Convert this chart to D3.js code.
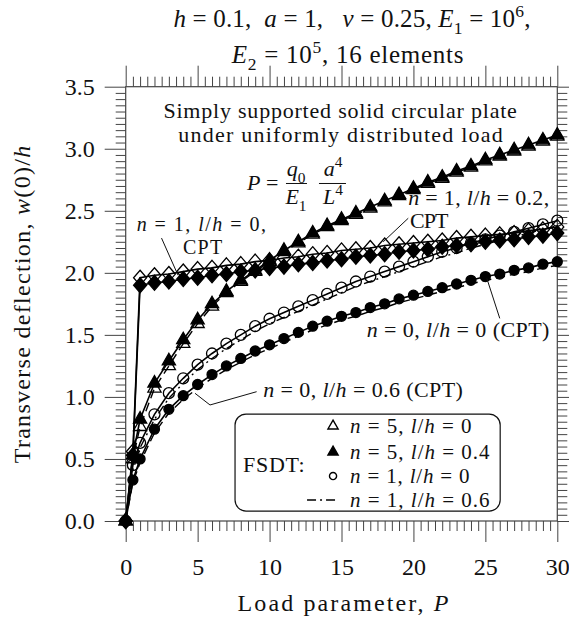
<!DOCTYPE html>
<html><head><meta charset="utf-8">
<script src="https://cdn.jsdelivr.net/npm/d3@7"></script>
<style>
body{margin:0;background:#fff}
svg{display:block}
text{font-family:'Liberation Serif','Times New Roman',serif;fill:#111}
</style>
</head><body><svg id="c" width="569" height="619"></svg>
<script>
// ---------------- data ----------------
const loadP = [0,0.5,1,2,3,4,5,6,7,8,9,10,11,12,13,14,15,16,17,18,19,20,21,22,23,24,25,26,27,28,29,30];
// CPT n=1, l/h=0 (open diamonds)
const cptN1L0 = [0,0.56,1.96,1.98,1.99,2.01,2.03,2.04,2.06,2.07,2.09,2.10,2.12,2.13,2.15,2.16,2.18,2.19,2.20,2.22,2.23,2.24,2.25,2.26,2.28,2.29,2.30,2.31,2.32,2.34,2.35,2.37];
// CPT n=1, l/h=0.2 (filled diamonds)
const cptN1L02 = [0,0.53,1.90,1.92,1.93,1.95,1.96,1.98,1.99,2.01,2.02,2.04,2.05,2.07,2.08,2.10,2.11,2.13,2.14,2.15,2.17,2.18,2.19,2.21,2.22,2.23,2.25,2.26,2.27,2.29,2.30,2.32];
// FSDT n=5, l/h=0 (open triangles)
const fsdtN5L0 = [0,0.50,0.76,1.07,1.25,1.43,1.59,1.73,1.84,1.93,2.01,2.09,2.17,2.24,2.31,2.37,2.42,2.47,2.52,2.57,2.62,2.67,2.72,2.76,2.81,2.85,2.90,2.94,2.98,3.02,3.06,3.10];
// FSDT n=5, l/h=0.4 (filled triangles)
const fsdtN5L04 = [0,0.53,0.82,1.11,1.29,1.46,1.62,1.75,1.85,1.94,2.02,2.10,2.18,2.25,2.32,2.38,2.43,2.48,2.53,2.58,2.63,2.68,2.73,2.77,2.82,2.86,2.91,2.95,2.99,3.03,3.07,3.11];
// FSDT n=1, l/h=0 (open circles)
const fsdtN1L0 = [0,0.45,0.63,0.86,1.03,1.15,1.26,1.35,1.43,1.50,1.57,1.63,1.68,1.73,1.78,1.83,1.88,1.93,1.97,2.01,2.05,2.09,2.13,2.17,2.20,2.24,2.27,2.30,2.33,2.36,2.39,2.42];
// FSDT n=1, l/h=0.6 (dash-dot line)
const fsdtN1L06 = [0,0.41,0.59,0.82,0.99,1.11,1.22,1.31,1.39,1.46,1.53,1.59,1.64,1.69,1.74,1.79,1.84,1.89,1.93,1.97,2.01,2.05,2.09,2.13,2.16,2.20,2.23,2.26,2.29,2.32,2.35,2.38];
// CPT n=0, l/h=0 (filled circles)
const cptN0L0 = [0,0.33,0.50,0.74,0.90,1.01,1.10,1.18,1.25,1.31,1.37,1.42,1.47,1.52,1.57,1.61,1.65,1.68,1.72,1.75,1.79,1.82,1.85,1.88,1.91,1.94,1.97,1.99,2.02,2.04,2.07,2.09];
// CPT n=0, l/h=0.6 (dashed line)
const cptN0L06 = [0,0.31,0.47,0.71,0.87,0.98,1.07,1.15,1.22,1.28,1.34,1.39,1.44,1.49,1.54,1.58,1.62,1.65,1.69,1.72,1.76,1.79,1.82,1.85,1.88,1.91,1.94,1.96,1.99,2.01,2.04,2.06];

const xTicks = [0,5,10,15,20,25,30];
const yTicks = [0,0.5,1,1.5,2,2.5,3,3.5];
const xTickLabels = ["0","5","10","15","20","25","30"];
const yTickLabels = ["0.0","0.5","1.0","1.5","2.0","2.5","3.0","3.5"];

// ---------------- layout ----------------
const svg = d3.select('#c');
const L = 125.7, R = 557.3, T = 86.7, B = 521;
const x = d3.scaleLinear().domain([0,30]).range([L,R]);
const y = d3.scaleLinear().domain([0,3.5]).range([B,T]);
const AX = '#444';
const MAJ = 21, MIN = 10;
const NB = '\u00a0';

// rich text helper
function rich(sel, px, py, parts, size, anchor){
  const t = sel.append('text').attr('x',px).attr('y',py).attr('font-size',size)
    .attr('text-anchor',anchor||'start');
  let shift = 0;
  parts.forEach(p=>{
    const s = typeof p === 'string' ? {t:p} : p;
    const ts = t.append('tspan').text(s.t);
    let target = 0;
    if (s.sub) target = size*0.28;
    if (s.sup) target = -size*0.42;
    if (target !== shift){ ts.attr('dy', target-shift); shift = target; }
    if (s.sub || s.sup) ts.attr('font-size', size*0.7);
    if (s.i) ts.attr('font-style','italic');
  });
  return t;
}
// spread letters so a text takes the width it has in the reference
function fit(t, target){
  const n = t.node();
  const w = n.getComputedTextLength();
  const c = n.textContent.length;
  if (c > 1) t.style('letter-spacing', ((target - w)/(c-0.5)).toFixed(2)+'px');
  return t;
}

// ---------------- axes ----------------
const minorX = d3.range(0,30.001,0.5).filter(v=>Math.abs(v%5)>1e-6);
const minorY = d3.range(0,3.5001,0.05).map(v=>+v.toFixed(2)).filter(v=>Math.abs((v*2)-Math.round(v*2))>1e-6);

function styleAxis(g){ g.selectAll('path,line').attr('stroke',AX).attr('stroke-width',1); g.select('.domain').remove(); }
function styleLabels(g){ g.selectAll('text').attr('font-size',24).attr('fill','#111').style('font-family',"'Liberation Serif',serif"); }

svg.append('g').attr('transform',`translate(0,${B})`)
  .call(d3.axisBottom(x).tickValues(minorX).tickSize(MIN).tickFormat('')).call(styleAxis);
svg.append('g').attr('transform',`translate(0,${B})`)
  .call(d3.axisBottom(x).tickValues(xTicks).tickSize(MAJ).tickPadding(16).tickFormat((d,i)=>xTickLabels[i]))
  .call(styleAxis).call(styleLabels);
svg.append('g').attr('transform',`translate(0,${T})`)
  .call(d3.axisTop(x).tickValues(minorX).tickSize(MIN).tickFormat('')).call(styleAxis);
svg.append('g').attr('transform',`translate(0,${T})`)
  .call(d3.axisTop(x).tickValues(xTicks).tickSize(MAJ).tickFormat('')).call(styleAxis);

svg.append('g').attr('transform',`translate(${L},0)`)
  .call(d3.axisLeft(y).tickValues(minorY).tickSize(MIN).tickFormat('')).call(styleAxis);
svg.append('g').attr('transform',`translate(${L},0)`)
  .call(d3.axisLeft(y).tickValues(yTicks).tickSize(MAJ).tickPadding(10).tickFormat((d,i)=>yTickLabels[i]))
  .call(styleAxis).call(styleLabels);
svg.append('g').attr('transform',`translate(${R},0)`)
  .call(d3.axisRight(y).tickValues(minorY).tickSize(MIN).tickFormat('')).call(styleAxis);
svg.append('g').attr('transform',`translate(${R},0)`)
  .call(d3.axisRight(y).tickValues(yTicks).tickSize(MAJ).tickFormat('')).call(styleAxis);

svg.append('rect').attr('x',L).attr('y',T).attr('width',R-L).attr('height',B-T)
  .attr('fill','none').attr('stroke',AX).attr('stroke-width',1.2);

// axis titles
fit(rich(svg, 344, 611, ['Load parameter, ',{t:'P',i:1}], 24, 'middle'), 212);
fit(rich(svg.append('g').attr('transform',`translate(30,${(T+B)/2}) rotate(-90)`), 0, 0,
  ['Transverse deflection, ',{t:'w',i:1},'(0)/',{t:'h',i:1}], 24, 'middle'), 318);

// title
fit(rich(svg, 352, 27, [{t:'h',i:1},' = 0.1,'+NB+NB,{t:'a',i:1},' = 1,'+NB+NB+NB,{t:'ν',i:1},' = 0.25, ',{t:'E',i:1},{t:'1',sub:1},' = 10',{t:'6',sup:1},','], 25, 'middle'), 357);
fit(rich(svg, 348, 63, [{t:'E',i:1},{t:'2',sub:1},' = 10',{t:'5',sup:1},', 16 elements'], 25, 'middle'), 232);

// ---------------- series ----------------
const plot = svg.append('g');
const line = d3.line().x((d,i)=>x(loadP[i])).y(d=>y(d));

function drawLine(vals, dash, w){
  plot.append('path').datum(vals).attr('d',line).attr('fill','none')
    .attr('stroke','#000').attr('stroke-width',w||1.6).attr('stroke-dasharray',dash||null);
}
drawLine(cptN0L06,'9,5',1.4);
drawLine(fsdtN1L06,'9,4,2,4',1.4);
drawLine(cptN0L0);
drawLine(fsdtN1L0);
drawLine(cptN1L02);
drawLine(cptN1L0);
drawLine(fsdtN5L0,'9,5',1.4);
drawLine(fsdtN5L04);

const diamondSym = {draw(ctx,size){ const w = Math.sqrt(size)*0.62, h = Math.sqrt(size)*0.72;
  ctx.moveTo(0,-h); ctx.lineTo(w,0); ctx.lineTo(0,h); ctx.lineTo(-w,0); ctx.closePath(); }};

function drawMarks(vals, type, size, filled){
  plot.append('g').selectAll('path').data(vals).join('path')
    .attr('transform',(d,i)=>`translate(${x(loadP[i])},${y(d)})`)
    .attr('d',d3.symbol().type(type).size(size))
    .attr('fill',filled?'#000':'none').attr('stroke','#000').attr('stroke-width',1.3);
}
drawMarks(cptN0L0, d3.symbolCircle, 78, true);
drawMarks(fsdtN1L0, d3.symbolCircle, 95, false);
drawMarks(cptN1L02, diamondSym, 110, true);
drawMarks(cptN1L0, diamondSym, 110, false);
drawMarks(fsdtN5L0, d3.symbolTriangle, 75, false);
drawMarks(fsdtN5L04, d3.symbolTriangle, 75, true);

// ---------------- annotations ----------------
const ann = svg.append('g');
const FS = 22;
fit(rich(ann, x(2.62), y(3.245), ['Simply supported solid circular plate'], FS, 'start'), 354);
fit(rich(ann, x(3.66), y(3.056), ['under uniformly distributed load'], FS, 'start'), 325);

// formula P = q0/E1 * a^4/L^4
const fx = x(8.43), fy = y(2.72);
rich(ann, fx, fy+7, [{t:'P',i:1},' ='], FS, 'start');
rich(ann, fx+49, fy-7, [{t:'q',i:1},{t:'0',sub:1}], FS, 'middle');
rich(ann, fx+49, fy+21, [{t:'E',i:1},{t:'1',sub:1}], FS, 'middle');
ann.append('line').attr('x1',fx+39).attr('x2',fx+60).attr('y1',fy).attr('y2',fy).attr('stroke','#111').attr('stroke-width',1);
rich(ann, fx+86, fy-7, [{t:'a',i:1},{t:'4',sup:1}], FS, 'middle');
rich(ann, fx+86, fy+21, [{t:'L',i:1},{t:'4',sup:1}], FS, 'middle');
ann.append('line').attr('x1',fx+72).attr('x2',fx+99).attr('y1',fy).attr('y2',fy).attr('stroke','#111').attr('stroke-width',1);

const nlh = (n,l,tail)=>[{t:'n',i:1},` = ${n}, `,{t:'l',i:1},'/',{t:'h',i:1},` = ${l}${tail}`];
fit(rich(ann, x(0.76), y(2.335), nlh(1,0,','), 20, 'start'), 130);
fit(rich(ann, x(3.98), y(2.155), ['CPT'], 20, 'start'), 40);
fit(rich(ann, x(19.64), y(2.546), nlh(1,0.2,','), FS, 'start'), 141);
fit(rich(ann, x(19.76), y(2.36), ['CPT'], FS, 'start'), 38);
fit(rich(ann, x(16.75), y(1.485), nlh(0,0,' (CPT)'), FS, 'start'), 183);
fit(rich(ann, x(9.56), y(1.0), nlh(0,0.6,' (CPT)'), FS, 'start'), 200);

const leaders = [
  [[2.49,2.28],[3.64,1.98]],
  [[19.64,2.44],[17.9,2.25]],
  [[26.0,1.633],[25.1,1.956]],
  [[9.1,1.042],[5.86,0.935],[4.82,1.029]]
];
const ll = d3.line().x(d=>x(d[0])).y(d=>y(d[1]));
leaders.forEach(p=>ann.append('path').attr('d',ll(p)).attr('fill','none').attr('stroke','#111').attr('stroke-width',1));

// ---------------- legend ----------------
const lx0 = x(7.6), lx1 = x(26.03), ly0 = y(0.862), ly1 = y(0.08);
ann.append('rect').attr('x',lx0).attr('y',ly0).attr('width',lx1-lx0).attr('height',ly1-ly0)
  .attr('rx',11).attr('fill','#fff').attr('stroke','#111').attr('stroke-width',1.2);
fit(rich(ann, lx0+8, ly0+58, ['FSDT:'], FS, 'start'), 62);
const legRows = [
  {type:d3.symbolTriangle, filled:false, n:5, l:0, dy:12, w:122},
  {type:d3.symbolTriangle, filled:true, n:5, l:0.4, dy:38, w:140},
  {type:d3.symbolCircle, filled:false, n:1, l:0, dy:62, w:120},
  {type:null, n:1, l:0.6, dy:86, w:140}
];
legRows.forEach(r=>{
  const cy = ly0 + r.dy;
  if (r.type){
    ann.append('path').attr('transform',`translate(${lx0+98},${cy})`)
      .attr('d',d3.symbol().type(r.type).size(r.type===d3.symbolCircle?40:45))
      .attr('fill',r.filled?'#000':'none').attr('stroke','#000').attr('stroke-width',1.4);
  } else {
    ann.append('line').attr('x1',lx0+72).attr('x2',lx0+104).attr('y1',cy).attr('y2',cy)
      .attr('stroke','#000').attr('stroke-width',1.6).attr('stroke-dasharray','9,4,2,4');
  }
  fit(rich(ann, lx0+115, cy+7, nlh(r.n, r.l, ''), 21, 'start'), r.w);
});
</script>
</body></html>
